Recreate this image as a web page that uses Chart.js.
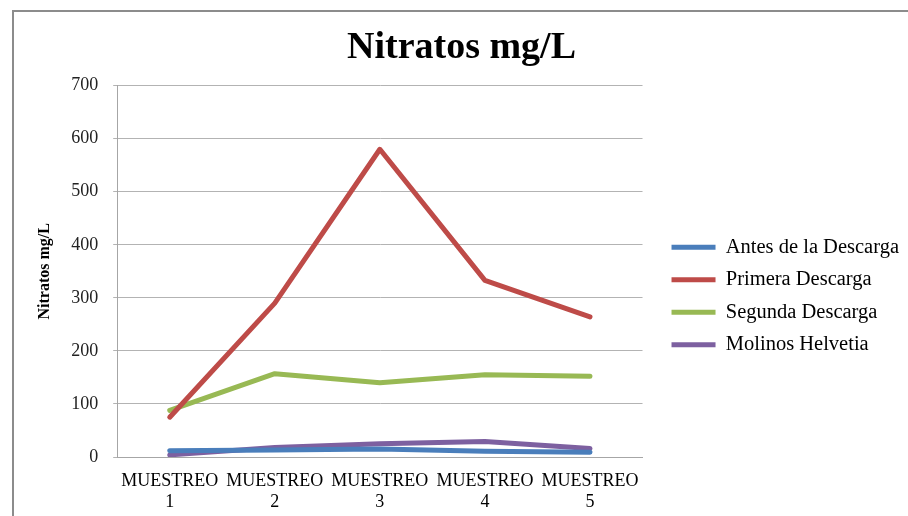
<!DOCTYPE html>
<html>
<head>
<meta charset="utf-8">
<script src="https://cdn.jsdelivr.net/npm/chart.js@4.4.1/dist/chart.umd.min.js"></script>
<style>
  html, body { margin: 0; padding: 0; background: #fff; }
  #wrap { position: relative; width: 908px; height: 516px; }
  #frame { position: absolute; left: 12px; top: 10px; width: 920px; height: 540px;
           border-left: 2px solid #8c8c8c; border-top: 2px solid #8c8c8c; pointer-events: none; }
</style>
</head>
<body>
<div id="wrap">
  <canvas id="chart" width="908" height="516"></canvas>
  <div id="frame"></div>
</div>
<script>
const categories = [["MUESTREO", "1"], ["MUESTREO", "2"], ["MUESTREO", "3"], ["MUESTREO", "4"], ["MUESTREO", "5"]];
const antes = [12, 13, 15, 11, 9];
const primera = [75, 290, 580, 333, 264];
const segunda = [88, 157, 140, 155, 152];
const molinos = [4, 18, 25, 29, 16];

const serif = "'Liberation Serif', 'DejaVu Serif', serif";

function line(label, data, color) {
  return {
    label: label,
    data: data,
    borderColor: color,
    backgroundColor: color,
    borderWidth: 5,
    pointRadius: 0,
    tension: 0,
    borderCapStyle: "round",
    borderJoinStyle: "round",
  };
}

// nudge the legend to where the original sits (further right and lower)
const legendShift = {
  id: "legendShift",
  afterLayout(chart) {
    const l = chart.legend;
    l.left += 17; l.right += 17;
    l.top += 30; l.bottom += 30;
  },
};

new Chart(document.getElementById("chart"), {
  type: "line",
  data: {
    labels: categories,
    datasets: [
      line("Antes de la Descarga", antes, "#4a7ebb"),
      line("Primera Descarga", primera, "#be4b48"),
      line("Segunda Descarga", segunda, "#98b954"),
      line("Molinos Helvetia", molinos, "#7d60a0"),
    ],
  },
  plugins: [legendShift],
  options: {
    responsive: false,
    animation: false,
    layout: { padding: { left: 31, right: 16, top: 16, bottom: 0 } },
    plugins: {
      title: {
        display: true,
        text: "Nitratos mg/L",
        color: "#000",
        font: { family: serif, size: 38, weight: "bold" },
        padding: { top: 9, bottom: 15 },
      },
      legend: {
        position: "right",
        maxWidth: 320,
        labels: {
          usePointStyle: true,
          pointStyle: "line",
          pointStyleWidth: 44,
          color: "#000",
          font: { family: serif, size: 20.5 },
          padding: 12,
        },
      },
      tooltip: { enabled: false },
    },
    scales: {
      x: {
        offset: true,
        grid: { display: false },
        border: { display: true, color: "#a6a6a6", width: 1 },
        ticks: {
          color: "#000",
          font: { family: serif, size: 18 },
          maxRotation: 0,
          autoSkip: false,
          padding: 5,
        },
        afterFit: function (axis) { axis.height = 59; },
      },
      y: {
        min: 0,
        max: 700,
        ticks: {
          stepSize: 100,
          color: "#222",
          font: { family: serif, size: 18 },
          padding: 15,
        },
        grid: { color: "#b3b3b3", lineWidth: 1, tickLength: 4 },
        border: { display: true, color: "#a6a6a6", width: 1 },
        title: {
          display: true,
          text: "Nitratos mg/L",
          color: "#000",
          font: { family: serif, size: 16, weight: "bold" },
          padding: { bottom: 2 },
        },
      },
    },
  },
});
</script>
</body>
</html>
